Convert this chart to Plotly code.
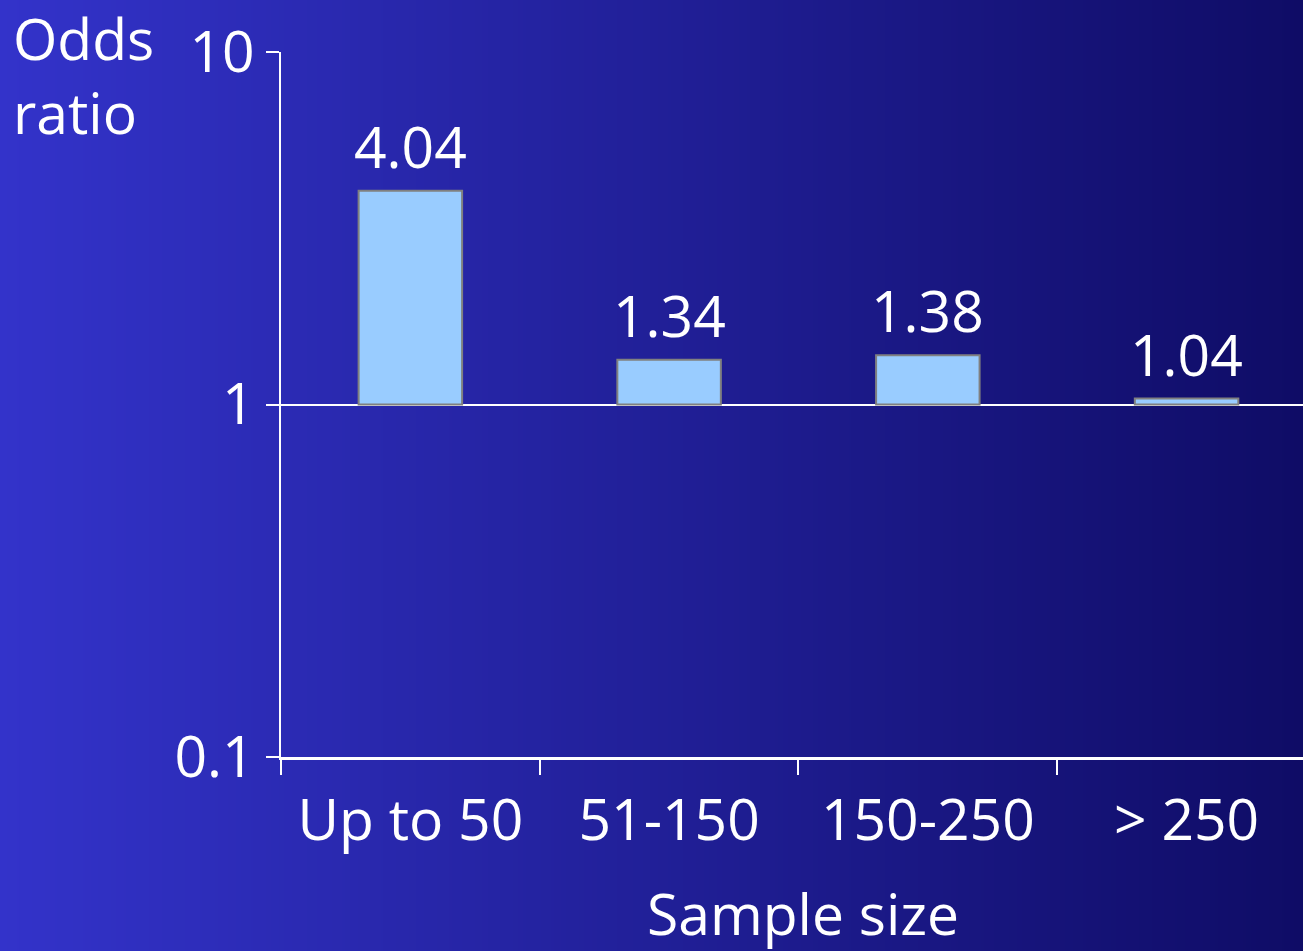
import base64, math, struct, zlib
import plotly.graph_objects as go

categories = ["Up to 50", "51-150", "150-250", "> 250"]
odds_ratio = [4.04, 1.34, 1.38, 1.04]
value_labels = ["4.04", "1.34", "1.38", "1.04"]
y_tick_vals = [0.1, 1, 10]
y_tick_text = ["0.1", "1", "10"]
x_title = "Sample size"
y_title = "Odds<br>ratio"

W, H = 1303, 951
L, R, T, B = 281, 0, 52, 194
PW, PH = W - L - R, H - T - B


def gradient_png(c0, c1, n=512):
    row = b"\x00"
    for i in range(n):
        t = i / (n - 1)
        row += bytes(int(round(c0[k] + (c1[k] - c0[k]) * t)) for k in range(3))

    def chunk(tag, data):
        return struct.pack(">I", len(data)) + tag + data + struct.pack(">I", zlib.crc32(tag + data) & 0xffffffff)
    png = b"\x89PNG\r\n\x1a\n"
    png += chunk(b"IHDR", struct.pack(">IIBBBBB", n, 1, 8, 2, 0, 0, 0))
    png += chunk(b"IDAT", zlib.compress(row))
    png += chunk(b"IEND", b"")
    return "data:image/png;base64," + base64.b64encode(png).decode()


bg = gradient_png((51, 51, 202), (15, 12, 102))

FONT = "Open Sans"
FS = 57

fig = go.Figure()
fig.add_trace(go.Bar(
    x=categories,
    y=[v - 1 for v in odds_ratio],
    base=[1] * len(odds_ratio),
    width=0.4,
    marker=dict(color="#99ccff", line=dict(color="#808080", width=2)),
    hoverinfo="skip",
))

for c, v, t in zip(categories, odds_ratio, value_labels):
    fig.add_annotation(x=c, y=math.log10(v), text=t, showarrow=False,
                       yanchor="bottom", yshift=4,
                       font=dict(family=FONT, size=FS, color="white"))

# y-axis title (top-left, two lines)
fig.add_annotation(xref="paper", yref="paper", x=(12 - L) / PW, y=1 + T / PH,
                   xanchor="left", yanchor="top", align="left", text=y_title,
                   yshift=2, borderpad=0, showarrow=False,
                   font=dict(family=FONT, size=FS, color="white"))

# x-axis title
fig.add_annotation(xref="paper", yref="paper", x=(803 - L) / PW, y=-B / PH,
                   xanchor="center", yanchor="bottom", text=x_title,
                   yshift=-2, borderpad=0, showarrow=False,
                   font=dict(family=FONT, size=FS, color="white"))

fig.update_layout(
    width=W, height=H,
    margin=dict(l=L, r=R, t=T, b=B, pad=0),
    paper_bgcolor="#2a2ab0",
    plot_bgcolor="rgba(0,0,0,0)",
    showlegend=False,
    images=[dict(source=bg, xref="paper", yref="paper", x=-L / PW, y=1 + T / PH,
                 sizex=W / PW, sizey=H / PH, sizing="stretch", layer="below",
                 xanchor="left", yanchor="top")],
    xaxis=dict(
        type="category", range=[-0.5, 3.45],
        showline=True, linecolor="white", linewidth=3,
        ticks="outside", tickson="boundaries", ticklen=15, tickwidth=2, tickcolor="white",
        tickfont=dict(family=FONT, size=FS, color="white"),
        ticklabelstandoff=12,
        showgrid=False,
    ),
    yaxis=dict(
        type="log", range=[-1, 1],
        tickvals=y_tick_vals, ticktext=y_tick_text,
        showline=True, linecolor="white", linewidth=2,
        ticks="outside", ticklen=13, tickwidth=2, tickcolor="white",
        showgrid=True, gridcolor="white", gridwidth=2,
        tickfont=dict(family=FONT, size=FS, color="white"),
    ),
)

fig.write_html("out.html", config={"displayModeBar": False},
               post_script="document.body.style.margin='0';document.body.style.overflow='hidden';")
